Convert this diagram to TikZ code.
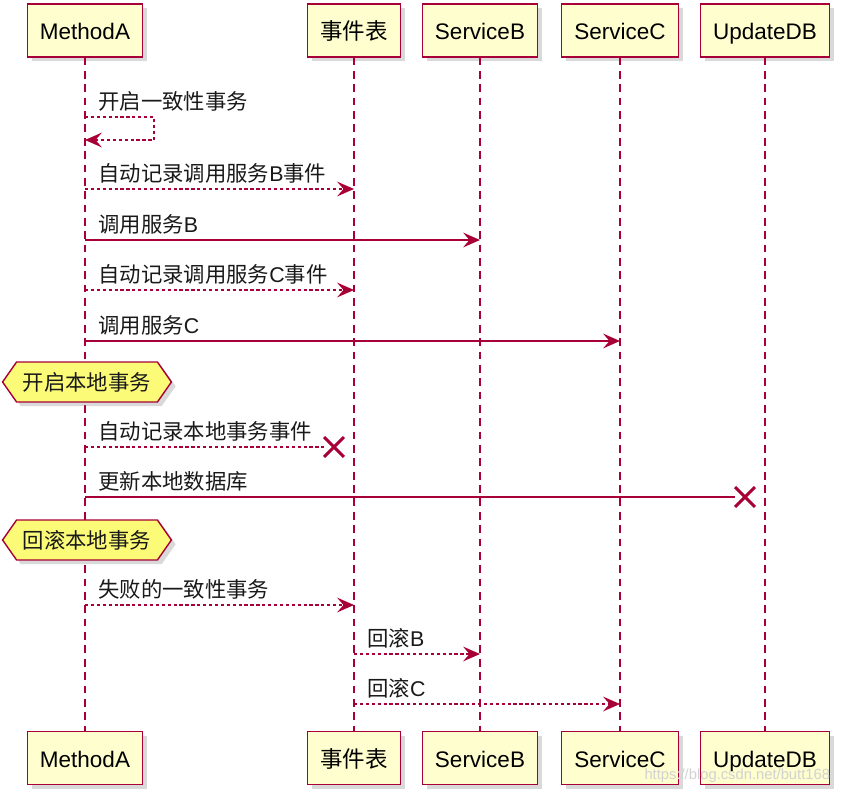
\documentclass[tikz,border=0pt]{standalone}
\usepackage{fontspec}
\setmainfont{Liberation Sans}
\newfontfamily\cjk{Noto Sans CJK SC}
\usetikzlibrary{arrows.meta, shapes.misc, shapes.symbols, shadows}
\definecolor{umlred}{HTML}{A80036}
\definecolor{umlbox}{HTML}{FEFECE}
\definecolor{umlnote}{HTML}{FBFB77}
\newcommand{\zh}[1]{{\cjk #1}}

\begin{document}
\begin{tikzpicture}[x=0.025cm, y=-0.025cm,
    >={Stealth[length=12pt, width=10.5pt, inset=4.5pt]},
    party/.style={draw=umlred, line width=1.1pt, fill=umlbox, text=black,
      minimum height=37.5pt, inner xsep=9pt, text height=14pt, text depth=1pt,
      font=\fontsize{16}{19}\selectfont,
      drop shadow={shadow xshift=3pt, shadow yshift=-3pt, opacity=0.3}},
    life/.style={umlred, line width=1pt, dash pattern=on 5.5pt off 4pt},
    syncmsg/.style={->, umlred, line width=1pt},
    asyncmsg/.style={->, umlred, line width=1pt, dash pattern=on 2.3pt off 1.9pt},
    lbl/.style={anchor=base west, inner sep=0pt, xshift=9pt, yshift=5pt, text=black!90,
      font=\fontsize{15.2}{18}\selectfont},
    hexnote/.style={shape=signal, signal to=west and east, signal pointer angle=110,
      draw=umlred, line width=1pt, fill=umlnote, text=black!90, minimum height=28.4pt,
      inner xsep=4.5pt, font=\fontsize{15.2}{18}\selectfont,
      drop shadow={shadow xshift=3pt, shadow yshift=-3pt, opacity=0.3}},
    kill/.style={cross out, draw=umlred, line width=2.2pt, minimum size=12pt, inner sep=0pt}]
  \useasboundingbox (0,0) rectangle (843,796);

  % participants, top and bottom
  \node[party] (mA) at (85,30.5) {MethodA};
  \node[party] (evt) at (354,30.5) {\zh{事件表}};
  \node[party] (svcB) at (480,30.5) {ServiceB};
  \node[party] (svcC) at (620,30.5) {ServiceC};
  \node[party] (upd) at (765,30.5) {UpdateDB};
  \node[party] (mA-b) at (85,758) {MethodA};
  \node[party] (evt-b) at (354,758) {\zh{事件表}};
  \node[party] (svcB-b) at (480,758) {ServiceB};
  \node[party] (svcC-b) at (620,758) {ServiceC};
  \node[party] (upd-b) at (765,758) {UpdateDB};
  \foreach \p in {mA, evt, svcB, svcC, upd}
    \draw[life] (\p.south) -- (\p-b.north);

  % message rows
  \foreach \n/\y in {m1/117, m1b/140, m2/189, m3/240, m4/290, m5/341, m9/605, m10/654, m11/704}
    \coordinate (\n) at (0,\y);

  \draw[asyncmsg] (mA |- m1) node[lbl] {\zh{开启一致性事务}} -- ++(69,0) -- ++(0,23) -- (mA |- m1b);
  \draw[asyncmsg] (mA |- m2) node[lbl] {\zh{自动记录调用服务}B\zh{事件}} -- (evt |- m2);
  \draw[syncmsg] (mA |- m3) node[lbl] {\zh{调用服务}B} -- (svcB |- m3);
  \draw[asyncmsg] (mA |- m4) node[lbl] {\zh{自动记录调用服务}C\zh{事件}} -- (evt |- m4);
  \draw[syncmsg] (mA |- m5) node[lbl] {\zh{调用服务}C} -- (svcC |- m5);

  \node[hexnote] (n1) at (87,382) {\zh{开启本地事务}};

  \node[kill] (x1) at (334,447) {};
  \draw[asyncmsg, -] (mA |- x1) node[lbl] {\zh{自动记录本地事务事件}} -- (x1);
  \node[kill] (x2) at (745,497) {};
  \draw[syncmsg, -] (mA |- x2) node[lbl] {\zh{更新本地数据库}} -- (x2);

  \node[hexnote] (n2) at (87,540) {\zh{回滚本地事务}};

  \draw[asyncmsg] (mA |- m9) node[lbl] {\zh{失败的一致性事务}} -- (evt |- m9);
  \draw[asyncmsg] (evt |- m10) node[lbl] {\zh{回滚}B} -- (svcB |- m10);
  \draw[asyncmsg] (evt |- m11) node[lbl] {\zh{回滚}C} -- (svcC |- m11);

  \node[anchor=east, text=gray!35, font=\fontsize{10.5}{12}\selectfont] (mark) at (835,776) {https://blog.csdn.net/butt168};
\end{tikzpicture}
\end{document}
